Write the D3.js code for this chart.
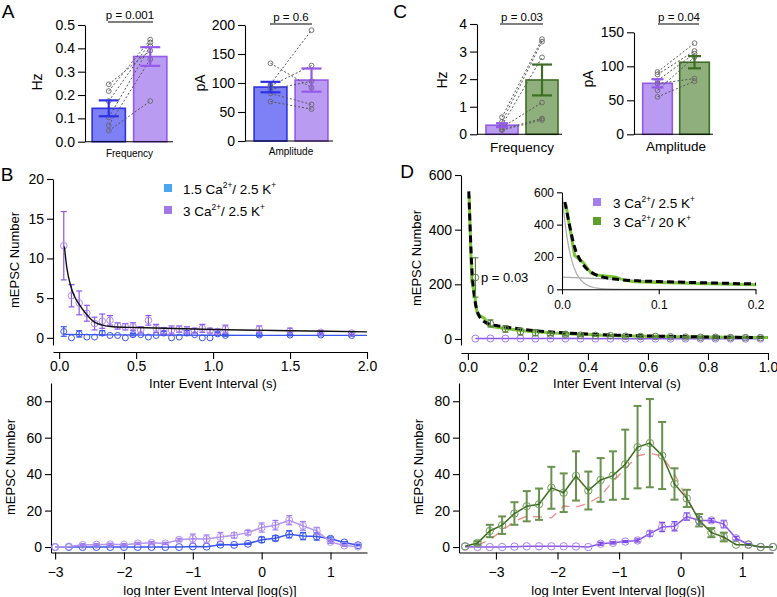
<!DOCTYPE html>
<html><head><meta charset="utf-8">
<script src="https://cdn.jsdelivr.net/npm/d3@7"></script>
<style>
body{margin:0;background:#fff}
svg{display:block}
text{font-family:"Liberation Sans",Arial,Helvetica,sans-serif;fill:#000}
</style>
</head><body>
<svg id="c" width="777" height="597"></svg>
<script>
// ---------------- DATA ----------------
// Panel A (1.5 Ca2+/2.5 K+ vs 3 Ca2+/2.5 K+)
const groupsA = ["1.5 Ca/2.5 K", "3 Ca/2.5 K"];
const freqAMean = [0.143, 0.365];
const freqAErr = [0.034, 0.040];
const freqALow = [0.246, 0.217, 0.174, 0.104, 0.071, 0.047];
const freqAHigh = [0.39, 0.437, 0.425, 0.41, 0.353, 0.174];
const freqATicks = [0, 0.1, 0.2, 0.3, 0.4, 0.5];
const ampAMean = [93, 105];
const ampAErr = [9, 20];
const ampALow = [134, 98, 95, 89, 82, 68];
const ampAHigh = [92, 191, 130, 103, 63, 55];
const ampATicks = [0, 50, 100, 150, 200];

// Panel C (3 Ca2+/2.5 K+ vs 3 Ca2+/20 K+)
const groupsC = ["3 Ca/2.5 K", "3 Ca/20 K"];
const freqCMean = [0.33, 1.97];
const freqCErr = [0.07, 0.56];
const freqCLow = [0.62, 0.45, 0.33, 0.25, 0.18, 0.15];
const freqCHigh = [3.45, 3.36, 2.79, 1.15, 0.57, 0.52];
const freqCTicks = [0, 1, 2, 3, 4];
const ampCMean = [75, 106];
const ampCErr = [6, 9];
const ampCLow = [91.6, 88, 79, 74.5, 64.7, 55];
const ampCHigh = [134, 122.5, 118.6, 82, 113.7, 78];
const ampCTicks = [0, 50, 100, 150];

// Panel B top: linear IEI histogram
const bIEI = [0.03,0.08,0.13,0.18,0.23,0.28,0.33,0.38,0.43,0.48,0.53,0.58,0.63,0.68,0.73,0.78,0.83,0.88,0.93,0.98,1.03,1.08,1.3,1.5,1.7,1.9];
const bPurple = [11.6,5.3,4.4,3.1,1.8,2.1,2.2,1.5,1.4,1.4,1.0,2.2,1.2,0.9,1.0,1.1,1.0,0.9,1.2,0.9,0.8,1.1,1.1,0.9,0.7,0.6];
const bPurpleErr = [4.3,1.4,1.5,1.0,0.8,0.9,0.6,0.4,0.4,0.5,0.4,0.6,0.5,0.4,0.5,0.4,0.4,0.3,0.5,0.3,0.3,0.5,0.4,0.3,0.2,0.2];
const bBlue = [0.8,0,0.5,0.1,0.1,0.6,0.3,0.3,0,0.4,0.4,0.1,0.3,0.6,0,0.1,0.6,0.4,0,0,0.5,0.3,0.35,0.35,0.35,0.3];
const bBlueErr = [0.6,0,0.4,0,0,0.3,0,0,0,0.15,0,0,0,0.2,0,0,0.3,0,0,0,0.2,0.1,0.15,0.1,0.1,0.1];
const bFitPurpleX = [0.034,0.05,0.077,0.1,0.13,0.18,0.22,0.28,0.35,0.5,1.0,1.5,2.0];
const bFitPurpleY = [11.5,8.8,6.4,5.2,4.2,2.9,2.1,1.6,1.4,1.3,1.05,0.9,0.75];
const bFitBlueX = [0.03,0.3,1.0,2.0];
const bFitBlueY = [0.45,0.38,0.33,0.3];
const bTopXTicks = [0, 0.5, 1.0, 1.5, 2.0];
const bTopYTicks = [0, 5, 10, 15, 20];

// Panel B bottom: log IEI histogram
const bLogX = [-3,-2.8,-2.6,-2.4,-2.2,-2,-1.8,-1.6,-1.4,-1.2,-1,-0.8,-0.6,-0.4,-0.2,0,0.2,0.4,0.6,0.8,1,1.2,1.4];
const bLogPurple = [0,0.3,1.2,1.3,1.5,1.3,2.0,2.3,2.0,4.0,4.6,4.4,5.5,6.4,7.9,10.7,12,14.7,11.6,8.8,2.8,0.8,0.2];
const bLogPurpleErr = [0,0,0.5,0.5,0.6,0.5,0.6,0.7,0.6,0.8,2.5,2.2,2.5,1.5,1.2,2.5,2.6,2.5,2.4,2.0,0.8,0.4,0];
const bLogBlue = [0,0,0,0,0,0,0,0,0,0,0.3,0.2,1.3,1.2,1.8,4.0,4.8,7.0,6.0,5.8,4.5,2.5,1.0];
const bLogBlueErr = [0,0,0,0,0,0,0,0,0,0,0,0,0.3,0.3,0.4,1.5,1.4,2.0,2.0,2.0,1.0,0.5,0.3];
const logXTicks = [-3, -2, -1, 0, 1];
const logYTicks = [0, 20, 40, 60, 80];

// Panel D top: linear IEI histogram
const dIEI = [0.025,0.075,0.125,0.175,0.225,0.275,0.325,0.375,0.425,0.475,0.525,0.575,0.625,0.675,0.725,0.775,0.825,0.875,0.925,0.975];
const dPurple = [1.5,1.8,1.6,1.5,1.4,1.6,1.5,1.4,1.3,1.4,1.3,1.2,1.2,1.1,1.1,1.0,1.0,0.9,0.9,0.8];
const dGreen = [225,57,37,27,23,18,17,14,13,12,10,9,9,8,7,6,6,5,5,5];
const dGreenErr = [72,13,12,12,11,5,6,4,3,3,3,3,2,2,2,2,2,2,2,2];
const dTraceX = [0.004,0.013,0.022,0.03,0.035,0.045,0.055,0.065,0.075,0.1,0.15,0.2,0.25,0.3,0.35,0.4,0.45,0.5,0.6,0.7,0.8,0.9,1.0];
const dTraceY = [525,210,165,100,88,82,76,55,46,42,35,28,25,21,18,16,14,12,10,8,7,6,5];
const dFitX = [0.003,0.008,0.013,0.018,0.025,0.035,0.045,0.06,0.08,0.1,0.15,0.2,0.3,0.4,0.5,0.7,1.0];
const dFitY = [540,390,260,190,130,90,72,60,52,48,40,33,24,18,14,9,5];
const dFastX = [0,0.002,0.005,0.01,0.015,0.02,0.03,0.04,0.05,0.07,0.1,0.2];
const dFastY = [600,471,329,180,98,54,16,5,1.5,0,0,0];
const dSlowX = [0,0.05,0.1,0.15,0.2];
const dSlowY = [75,63,50,40,32];
const dTopXTicks = [0, 0.2, 0.4, 0.6, 0.8, 1.0];
const dTopYTicks = [0, 200, 400, 600];
const insetXTicks = [0, 0.1, 0.2];
const insetYTicks = [0, 200, 400, 600];

// Panel D bottom: log IEI histogram
const dLogX = [-3.5,-3.3,-3.1,-2.9,-2.7,-2.5,-2.3,-2.1,-1.9,-1.7,-1.5,-1.3,-1.1,-0.9,-0.7,-0.5,-0.3,-0.1,0.1,0.3,0.5,0.7,0.9,1.1,1.3,1.5];
const dLogGreen = [0.4,2.2,8.8,12,18.4,22.4,23.5,32.5,29.8,39,31,36.8,39.2,45.4,54.8,57,50.2,34.6,26.7,14.7,7.9,5.5,1.3,1.3,0,0];
const dLogGreenErr = [0,1,3.4,4.8,6.2,8.3,8.6,11.5,10.6,13.5,10.4,12,13.3,19,22.6,24.2,18.4,8.6,4.7,3.4,2.5,2.4,0,0,0,0];
const dLogPurple = [0.2,0,0,0,0.2,0.4,0.4,0.4,0.4,0.3,0,1.8,2.3,3.0,3.6,7.4,11.0,11.4,16.7,14.6,14.6,12.6,4.8,1.4,0,0];
const dLogPurpleErr = [0,0,0,0,0,0,0,0,0,0,0,0.8,0.6,0.5,0.8,1.5,2.5,2.5,2,2,1,2,1,0.5,0,0];
const dRedX = [-3.3,-3.1,-2.9,-2.7,-2.5,-2.3,-2.1,-1.9,-1.7,-1.5,-1.3,-1.1,-0.9,-0.7,-0.5,-0.3,-0.1,0.1,0.3,0.5,0.7,0.9,1.1];
const dRedY = [1,4,9,14,17,16.5,16,22.5,22,24,28,36,43,50,51.5,50,40,27,15,8,5,1.5,1];

// ---------------- COLORS ----------------
const C = {
  blueFill:"#7e80f6", blueStroke:"#2d31e6", blue:"#3a55ef", blueLight:"#4aa6f2",
  purpleFill:"#b99cf1", purpleStroke:"#9459ea", purple:"#8c55ea", purpleLight:"#ad8cf0",
  greenFill:"#8fb07c", greenStroke:"#3e6d26", greenLine:"#7cc63a", greenDark:"#3c6c1e", greenErr:"#56853a",
  grey:"#777", red:"#f08a8a"
};

const svg = d3.select("#c");

// ---------------- HELPERS ----------------
function yAxis(scale, x, ticks, fmt, size, fs) {
  const g = svg.append("g").attr("transform", `translate(${x},0)`)
    .call(d3.axisLeft(scale).tickValues(ticks).tickSize(size||7).tickPadding(3).tickSizeOuter(0).tickFormat(fmt));
  g.selectAll("text").style("font-size", (fs||14)+"px");
  g.selectAll("path,line").attr("stroke","#000").attr("stroke-width",1.1);
  return g;
}
function xAxis(scale, y, ticks, fmt, pad, fs) {
  const g = svg.append("g").attr("transform", `translate(0,${y})`)
    .call(d3.axisBottom(scale).tickValues(ticks).tickSize(7).tickPadding(pad).tickSizeOuter(0).tickFormat(fmt));
  g.selectAll("text").style("font-size", (fs||14)+"px");
  g.selectAll("path,line").attr("stroke","#000").attr("stroke-width",1.1);
  return g;
}
function label(x, y, txt, fs, rot, anchor) {
  const t = svg.append("text").attr("x", x).attr("y", y).attr("dy","0.35em")
    .attr("text-anchor", anchor||"middle").style("font-size", fs+"px").text(txt);
  if (rot) t.attr("transform", `rotate(-90,${x},${y})`);
  return t;
}
function errorBars(xs, ms, es, xS, yS, color, capW, sw, opacity) {
  const g = svg.append("g").attr("stroke", color).attr("stroke-width", sw).attr("fill","none")
    .attr("opacity", opacity==null?1:opacity);
  xs.forEach((xv,i) => {
    if (!es[i]) return;
    const x = xS(xv), y1 = yS(ms[i]-es[i]), y2 = yS(ms[i]+es[i]);
    g.append("line").attr("x1",x).attr("x2",x).attr("y1",y1).attr("y2",y2);
    g.append("line").attr("x1",x-capW/2).attr("x2",x+capW/2).attr("y1",y1).attr("y2",y1);
    g.append("line").attr("x1",x-capW/2).attr("x2",x+capW/2).attr("y1",y2).attr("y2",y2);
  });
}
function circles(xs, ys, xS, yS, color, r, sw) {
  svg.append("g").selectAll("circle").data(xs).join("circle")
    .attr("cx", d => xS(d)).attr("cy", (d,i) => yS(ys[i])).attr("r", r)
    .attr("fill","none").attr("stroke", color).attr("stroke-width", sw||1);
}
function path(xs, ys, xS, yS, color, sw, dash, curve, clip) {
  const line = d3.line().x(d => xS(d[0])).y(d => yS(d[1])).curve(curve || d3.curveLinear);
  const p = svg.append("path").datum(d3.zip(xs, ys)).attr("d", line)
    .attr("fill","none").attr("stroke", color).attr("stroke-width", sw);
  if (dash) p.attr("stroke-dasharray", dash);
  if (clip) p.attr("clip-path", `url(#${clip})`);
  return p;
}
function supText(x, y, parts, fs) {
  const t = svg.append("text").attr("x", x).attr("y", y).attr("dy","0.35em").style("font-size", fs+"px");
  t.append("tspan").text(parts[0]);
  t.append("tspan").attr("dy", -6).style("font-size", (fs*0.62)+"px").text(parts[1]);
  t.append("tspan").attr("dy", 6).text(parts[2]);
  t.append("tspan").attr("dy", -6).style("font-size", (fs*0.62)+"px").text(parts[3]);
}

function barPanel(cfg) {
  const x = d3.scaleBand().domain(cfg.groups).range(cfg.band).paddingInner(0.2).paddingOuter(0.1);
  const y = d3.scaleLinear().domain(cfg.yDomain).range(cfg.yRange);
  svg.append("g").selectAll("rect").data(cfg.groups).join("rect")
    .attr("x", d => x(d)).attr("width", x.bandwidth())
    .attr("y", (d,i) => y(cfg.mean[i])).attr("height", (d,i) => y(0) - y(cfg.mean[i]))
    .attr("fill", (d,i) => cfg.fills[i]).attr("stroke", (d,i) => cfg.strokes[i]).attr("stroke-width", 1.6);
  const cx0 = x(cfg.groups[0]) + x.bandwidth()/2, cx1 = x(cfg.groups[1]) + x.bandwidth()/2;
  const pg = svg.append("g");
  cfg.low.forEach((v,i) => {
    pg.append("line").attr("x1", cx0).attr("y1", y(v)).attr("x2", cx1).attr("y2", y(cfg.high[i]))
      .attr("stroke", "#555").attr("stroke-width", 1).attr("stroke-dasharray", "2,2");
  });
  cfg.low.forEach(v => pg.append("circle").attr("cx", cx0).attr("cy", y(v)).attr("r", 2.4)
    .attr("fill","none").attr("stroke","#666").attr("stroke-width",0.9));
  cfg.high.forEach(v => pg.append("circle").attr("cx", cx1).attr("cy", y(v)).attr("r", 2.4)
    .attr("fill","none").attr("stroke","#666").attr("stroke-width",0.9));
  cfg.groups.forEach((gname,i) => {
    const cx = x(gname) + x.bandwidth()/2;
    errorBars([cx], [cfg.mean[i]], [cfg.err[i]], d => d, y, cfg.errColors[i], cfg.caps[i], 2.2);
  });
  yAxis(y, cfg.yAxisX, cfg.ticks, cfg.fmt, 7, cfg.tickFs);
  svg.append("line").attr("x1", cfg.yAxisX).attr("x2", cfg.xEnd).attr("y1", y(0)).attr("y2", y(0))
    .attr("stroke","#000").attr("stroke-width",1.1);
  label(cfg.titleX, cfg.titleY, cfg.title, 14, true);
  label((cfg.band[0]+cfg.band[1])/2, cfg.catY, cfg.cat, cfg.catFs);
  label(cfg.pX, cfg.pY, cfg.p, 11.5);
  svg.append("line").attr("x1", cfg.pLine[0]).attr("x2", cfg.pLine[1]).attr("y1", cfg.pLineY).attr("y2", cfg.pLineY)
    .attr("stroke","#000").attr("stroke-width",1);
}

// ---------------- PANEL LETTERS ----------------
label(8, 11, "A", 19);
label(400, 11, "C", 19);
label(7, 174, "B", 19);
label(407, 171, "D", 19);

// ---------------- PANEL A ----------------
barPanel({groups: groupsA, mean: freqAMean, err: freqAErr, low: freqALow, high: freqAHigh,
  band: [88,171], yDomain: [0,0.5], yRange: [141.7,25], ticks: freqATicks, fmt: d3.format(".1f"),
  fills: [C.blueFill, C.purpleFill], strokes: [C.blueStroke, C.purpleStroke], errColors: [C.blueStroke, C.purpleStroke],
  caps: [20,20], yAxisX: 85, xEnd: 173, tickFs: 14, title: "Hz", titleX: 37, titleY: 82,
  cat: "Frequency", catY: 153, catFs: 10, p: "p = 0.001", pX: 130, pY: 15, pLine: [108,153], pLineY: 22});
barPanel({groups: groupsA, mean: ampAMean, err: ampAErr, low: ampALow, high: ampAHigh,
  band: [250,332], yDomain: [0,200], yRange: [141,25], ticks: ampATicks, fmt: d3.format("d"),
  fills: [C.blueFill, C.purpleFill], strokes: [C.blueStroke, C.purpleStroke], errColors: [C.blueStroke, C.purpleStroke],
  caps: [20,20], yAxisX: 245, xEnd: 333, tickFs: 14, title: "pA", titleX: 200, titleY: 83,
  cat: "Amplitude", catY: 151, catFs: 10, p: "p = 0.6", pX: 291, pY: 17, pLine: [270,312], pLineY: 24});

// ---------------- PANEL C ----------------
barPanel({groups: groupsC, mean: freqCMean, err: freqCErr, low: freqCLow, high: freqCHigh,
  band: [482,562], yDomain: [0,4], yRange: [134.3,24], ticks: freqCTicks, fmt: d3.format("d"),
  fills: [C.purpleFill, C.greenFill], strokes: [C.purpleStroke, C.greenStroke], errColors: [C.purpleStroke, C.greenStroke],
  caps: [12,20], yAxisX: 477, xEnd: 562, tickFs: 14, title: "Hz", titleX: 442, titleY: 80,
  cat: "Frequency", catY: 147, catFs: 13.5, p: "p = 0.03", pX: 522, pY: 17, pLine: [500,543], pLineY: 24});
barPanel({groups: groupsC, mean: ampCMean, err: ampCErr, low: ampCLow, high: ampCHigh,
  band: [639,713], yDomain: [0,150], yRange: [134.3,32.3], ticks: ampCTicks, fmt: d3.format("d"),
  fills: [C.purpleFill, C.greenFill], strokes: [C.purpleStroke, C.greenStroke], errColors: [C.purpleStroke, C.greenStroke],
  caps: [12,13], yAxisX: 634, xEnd: 713, tickFs: 14, title: "pA", titleX: 588, titleY: 79,
  cat: "Amplitude", catY: 146, catFs: 13.5, p: "p = 0.04", pX: 679, pY: 17, pLine: [658,699], pLineY: 24});

// ---------------- PANEL B TOP ----------------
{
  const x = d3.scaleLinear().domain([-0.04, 2]).range([53, 367]);
  const y = d3.scaleLinear().domain([-0.9, 20]).range([345, 179]);
  yAxis(y, 53, bTopYTicks, d3.format("d"), 6, 14);
  xAxis(x, 352, bTopXTicks, d3.format(".1f"), 2, 14);
  label(14, 260, "mEPSC Number", 13, true);
  label(213, 383, "Inter Event Interval (s)", 13);
  path(bFitBlueX, bFitBlueY, x, y, C.blue, 1.3);
  errorBars(bIEI, bBlue, bBlueErr, x, y, C.blue, 6, 1.2);
  circles(bIEI, bBlue, x, y, C.blue, 3, 1);
  errorBars(bIEI, bPurple, bPurpleErr, x, y, C.purple, 6, 1.2);
  circles(bIEI, bPurple, x, y, C.purpleLight, 3.3, 1);
  path(bFitPurpleX, bFitPurpleY, x, y, "#111", 1.4, null, d3.curveMonotoneX);
  svg.append("rect").attr("x", 164).attr("y", 184).attr("width", 8).attr("height", 8).attr("fill", C.blueLight);
  svg.append("rect").attr("x", 164).attr("y", 206).attr("width", 8).attr("height", 8).attr("fill", "#a277e6");
  supText(183, 189, ["1.5 Ca", "2+", "/ 2.5 K", "+"], 13.5);
  supText(183, 211, ["3 Ca", "2+", "/ 2.5 K", "+"], 13.5);
}

// ---------------- PANEL B BOTTOM ----------------
{
  const x = d3.scaleLinear().domain([-3.06, 1.53]).range([51, 367]);
  const y = d3.scaleLinear().domain([-3, 90]).range([552.5, 383]);
  yAxis(y, 51, logYTicks, d3.format("d"), 6, 14);
  xAxis(x, 552.5, logXTicks, d3.format("d"), 8, 14);
  label(10, 467, "mEPSC Number", 13, true);
  label(210, 590, "log Inter Event Interval [log(s)]", 13);
  path(bLogX, bLogBlue, x, y, C.blue, 1.5);
  errorBars(bLogX, bLogBlue, bLogBlueErr, x, y, C.blue, 6, 1.2);
  circles(bLogX, bLogBlue, x, y, C.blue, 3.5, 1);
  path(bLogX, bLogPurple, x, y, "#b596ef", 1.5);
  errorBars(bLogX, bLogPurple, bLogPurpleErr, x, y, "#9f78ec", 6, 1.2);
  circles(bLogX, bLogPurple, x, y, "#b596ef", 3.5, 1);
}

// ---------------- PANEL D TOP ----------------
{
  const x = d3.scaleLinear().domain([-0.023, 1]).range([461, 768]);
  const y = d3.scaleLinear().domain([-22, 600]).range([345, 175]);
  yAxis(y, 461, dTopYTicks, d3.format("d"), 6, 14);
  xAxis(x, 353, dTopXTicks, d3.format(".1f"), 2, 14);
  label(416, 258, "mEPSC Number", 13, true);
  label(617, 383, "Inter Event Interval (s)", 13);
  path(dIEI, dPurple, x, y, C.purple, 1.5);
  circles(dIEI, dPurple, x, y, "#a47ff0", 3.5, 1);
  path(dTraceX, dTraceY, x, y, C.greenLine, 3);
  path(dFitX, dFitY, x, y, "#000", 3, "7,4", d3.curveMonotoneX);
  errorBars(dIEI, dGreen, dGreenErr, x, y, C.greenErr, 6, 1.2);
  circles(dIEI, dGreen, x, y, "#5d7f4c", 3.3, 1);
  label(481, 277, "p = 0.03", 13, false, "start");

  // inset
  const xi = d3.scaleLinear().domain([0, 0.2]).range([562, 755.5]);
  const yi = d3.scaleLinear().domain([0, 600]).range([289.3, 192.3]);
  svg.append("clipPath").attr("id","insetClip").append("rect")
    .attr("x", 562).attr("y", 192).attr("width", 194).attr("height", 98);
  path(dFastX, dFastY, xi, yi, "#aaa", 1.2, null, d3.curveMonotoneX, "insetClip");
  path(dSlowX, dSlowY, xi, yi, "#aaa", 1.2, null, d3.curveMonotoneX, "insetClip");
  path(dTraceX, dTraceY, xi, yi, C.greenLine, 3, null, null, "insetClip");
  path(dFitX, dFitY, xi, yi, "#000", 3, "7,4", d3.curveMonotoneX, "insetClip");
  const gy = svg.append("g").attr("transform","translate(562,0)")
    .call(d3.axisLeft(yi).tickValues(insetYTicks).tickSize(5).tickPadding(3).tickSizeOuter(0));
  gy.selectAll("text").style("font-size","12px");
  gy.selectAll("path,line").attr("stroke","#000").attr("stroke-width",1.1);
  const gx = svg.append("g").attr("transform","translate(0,289.3)")
    .call(d3.axisBottom(xi).tickValues(insetXTicks).tickSize(5).tickPadding(6).tickSizeOuter(0).tickFormat(d3.format(".1f")));
  gx.selectAll("text").style("font-size","12px");
  gx.selectAll("path,line").attr("stroke","#000").attr("stroke-width",1.1);
  svg.append("rect").attr("x", 593).attr("y", 198).attr("width", 8).attr("height", 8).attr("fill", "#a47ff0");
  svg.append("rect").attr("x", 593).attr("y", 217).attr("width", 8).attr("height", 8).attr("fill", "#5e9e2a");
  supText(613, 203, ["3 Ca", "2+", "/ 2.5 K", "+"], 13.5);
  supText(613, 222, ["3 Ca", "2+", "/ 20 K", "+"], 13.5);
}

// ---------------- PANEL D BOTTOM ----------------
{
  const x = d3.scaleLinear().domain([-3.6, 1.5]).range([459, 773]);
  const y = d3.scaleLinear().domain([-3, 90]).range([552.5, 383]);
  yAxis(y, 459, logYTicks, d3.format("d"), 6, 14);
  xAxis(x, 552.5, logXTicks, d3.format("d"), 8, 14);
  label(418, 467, "mEPSC Number", 13, true);
  label(618, 590, "log Inter Event Interval [log(s)]", 13);
  path(dRedX, dRedY, x, y, C.red, 1.3, "9,7");
  path(dLogX, dLogPurple, x, y, C.purple, 1.5);
  errorBars(dLogX, dLogPurple, dLogPurpleErr, x, y, "#7d47e6", 6, 1.4);
  circles(dLogX, dLogPurple, x, y, "#a784f0", 3.7, 1);
  errorBars(dLogX, dLogGreen, dLogGreenErr, x, y, "#4f7f30", 8, 2, 0.85);
  path(dLogX, dLogGreen, x, y, C.greenDark, 1.5);
  circles(dLogX, dLogGreen, x, y, "#6f9a5a", 3.7, 1);
}
</script>
</body></html>
